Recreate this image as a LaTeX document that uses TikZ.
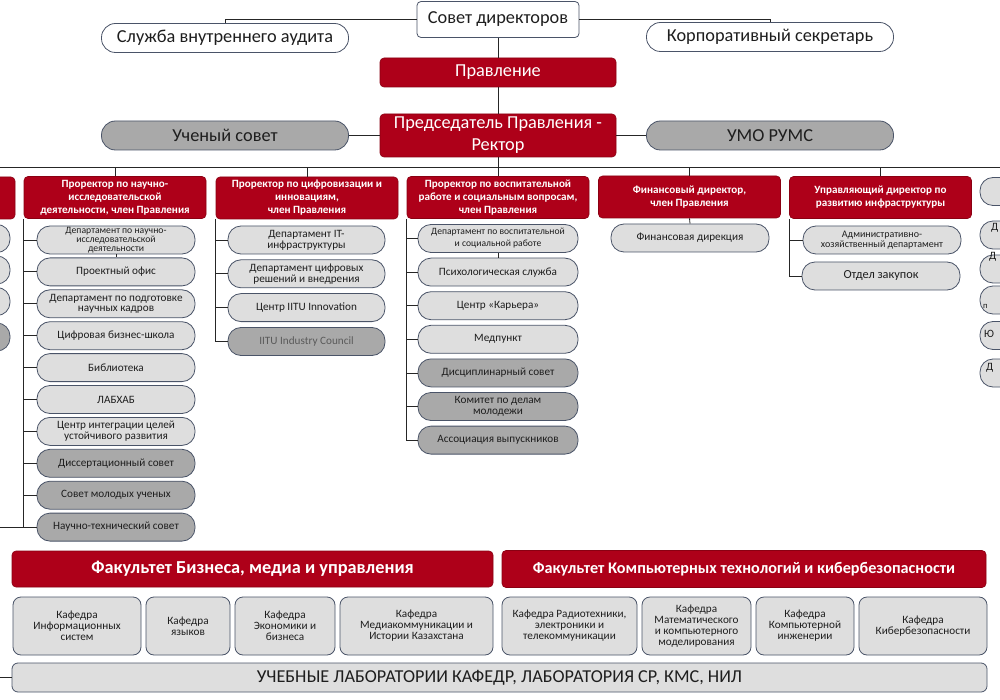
\documentclass[tikz,border=0pt]{standalone}
\usepackage{fontspec}
\setmainfont{Carlito}
\usetikzlibrary{positioning}

\definecolor{hdred}{HTML}{AE0019}
\definecolor{hdredline}{HTML}{8A0012}
\definecolor{edge}{HTML}{4A5468}
\definecolor{pillLt}{HTML}{DEDEDE}
\definecolor{pillDk}{HTML}{A9A9A9}
\definecolor{txtdark}{HTML}{1E1E1E}
\definecolor{txtgray}{HTML}{5A5A5A}
\definecolor{linecol}{HTML}{262626}

\begin{document}
\begin{tikzpicture}[x=1pt, y=-1pt,
    every node/.style={inner sep=0pt, align=center, text=txtdark},
    redbox/.style={draw=hdredline, fill=hdred, text=white, rounded corners=4pt, line width=0.6pt},
    head/.style={redbox, minimum width=182pt, minimum height=42pt, font=\bfseries\fontsize{11.1}{13}\selectfont},
    toppill/.style={draw=edge, rounded corners=14pt, minimum width=247pt, minimum height=29pt, line width=0.8pt, font=\fontsize{18.3}{21}\selectfont},
    pill/.style={draw=edge, fill=pillLt, rounded corners=13pt, minimum width=158pt, minimum height=28pt, line width=0.8pt, font=\fontsize{11.2}{10.8}\selectfont},
    darkpill/.style={fill=pillDk},
    dept/.style={draw=edge, fill=pillLt, rounded corners=8pt, minimum height=58pt, line width=0.8pt, font=\fontsize{11.2}{11}\selectfont},
    link/.style={draw=linecol, line width=0.8pt}
]
    % Page
    \useasboundingbox (0,0) rectangle (1000,700);
    \clip (0,0) rectangle (1000,700);
    \fill[white] (0,0) rectangle (1000,700);

    % Top levels
    \node[draw=edge, fill=white, rounded corners=4pt, minimum width=162pt, minimum height=36pt, line width=0.8pt, font=\fontsize{18.3}{21}\selectfont] (board) at (498,19.5) {Совет директоров};
    \node[toppill, fill=white] (audit) at (225,38) {Служба внутреннего аудита};
    \node[toppill, fill=white] (secretary) at (770,37) {Корпоративный секретарь};
    \node[redbox, minimum width=236pt, minimum height=29pt, font=\fontsize{18.3}{21}\selectfont] (management) at (498,72.5) {Правление};
    \node[redbox, minimum width=236pt, minimum height=43pt, font=\fontsize{18.3}{22}\selectfont] (rector) at (498,135.5) {Председатель Правления -\\Ректор};
    \node[toppill, fill=pillDk] (council) at (225,135.5) {Ученый совет};
    \node[toppill, fill=pillDk] (umo) at (770,135.5) {УМО РУМС};

    \draw[link] (board.west) -| (audit.north);
    \draw[link] (board.east) -| (secretary.north);
    \draw[link] (board.south) -- (management.north);
    \draw[link] (management.south) -- (rector.north);
    \draw[link] (council.east) -- (rector.west);
    \draw[link] (rector.east) -- (umo.west);

    % Bus to the vice-rectors
    \coordinate (busL) at (0,167);
    \coordinate (busR) at (1000,167);
    \draw[link] (busL) -- (busR);
    \draw[link] (rector.south) -- (rector.south |- busL);

    % Column heads
    \node[head] (vp0) at (-76,198) {};
    \node[head] (vp1) at (115,197.5) {Проректор по научно-\\исследовательской\\деятельности, член Правления};
    \node[head] (vp2) at (307,198) {Проректор по цифровизации и\\инновациям,\\член Правления};
    \node[head] (vp3) at (498,197.5) {Проректор по воспитательной\\работе и социальным вопросам,\\член Правления};
    \node[head] (vp4) at (689.5,197) {Финансовый директор,\\член Правления};
    \node[head] (vp5) at (880.5,197.5) {Управляющий директор по\\развитию инфраструктуры};
    \foreach \v in {vp1,vp2,vp3,vp4,vp5}
        \draw[link] (\v.north) -- (\v.north |- busL);

    % Left cut-off column
    \foreach \y [count=\i] in {238.5,270,301.5}
        \node[pill] (lf\i) at (-69,\y) {};
    \node[pill, darkpill] (lf4) at (-69,337) {};

    % Research column
    \node[pill, font=\fontsize{9.7}{9}\selectfont] (sci1) at (116,240) {Департамент по научно-\\исследовательской\\деятельности};
    \foreach \txt [count=\i from 2] in {Проектный офис, {Департамент по подготовке\\научных кадров}, Цифровая бизнес-школа, Библиотека, ЛАБХАБ, {Центр интеграции целей\\устойчивого развития}}
        \node[pill] (sci\i) at (116, {208.1+31.9*\i}) {\txt};
    \foreach \txt [count=\i from 8] in {Диссертационный совет, Совет молодых ученых, Научно-технический совет}
        \node[pill, darkpill] (sci\i) at (116, {208.1+31.9*\i}) {\txt};
    \draw[link] (vp1.south west) |- (sci10.west);
    \foreach \i in {1,...,9}
        \draw[link] (vp1.south west |- sci\i.west) -- (sci\i.west);
    \draw[link] (sci1.south) -- (sci2.north);
    \draw[link] (busL |- sci10.west) -- (sci10.west);

    % Digital column
    \foreach \txt [count=\i] in {{Департамент IT-\\инфраструктуры}, {Департамент цифровых\\решений и внедрения}, Центр IITU Innovation}
        \node[pill, minimum width=157pt] (dig\i) at (306.5, {206.2+33.8*\i}) {\txt};
    \node[pill, darkpill, minimum width=157pt, text=txtgray] (dig4) at (306.5,341.5) {IITU Industry Council};
    \draw[link] (vp2.south west) |- (dig4.west);
    \foreach \i in {1,2,3}
        \draw[link] (vp2.south west |- dig\i.west) -- (dig\i.west);

    % Student affairs column
    \node[pill, minimum width=160pt, font=\fontsize{9.6}{12}\selectfont] (edu1) at (498,238.5) {Департамент по воспитательной\\и социальной работе};
    \foreach \txt [count=\i from 2] in {Психологическая служба, Центр «Карьера», Медпункт}
        \node[pill, minimum width=160pt] (edu\i) at (498, {204.9+33.6*\i}) {\txt};
    \foreach \txt [count=\i from 5] in {Дисциплинарный совет, {Комитет по делам\\молодежи}, Ассоциация выпускников}
        \node[pill, darkpill, minimum width=160pt] (edu\i) at (498, {204.9+33.6*\i}) {\txt};
    \draw[link] (vp3.south west) |- (edu7.west);
    \foreach \i in {1,...,6}
        \draw[link] (vp3.south west |- edu\i.west) -- (edu\i.west);
    \draw[link] (edu1.south) -- (edu2.north);

    % Finance column
    \node[pill] (fin1) at (690,238) {Финансовая дирекция};
    \draw[link] (vp4.south) -- (fin1.north);

    % Infrastructure column
    \node[pill, font=\fontsize{10}{10.5}\selectfont] (inf1) at (882,240) {Административно-\\хозяйственный департамент};
    \node[pill, font=\fontsize{12.3}{12}\selectfont] (inf2) at (881,276) {Отдел закупок};
    \draw[link] (vp5.south west) |- (inf2.west);
    \draw[link] (vp5.south west |- inf1.west) -- (inf1.west);

    % Right cut-off column
    \foreach \y [count=\i] in {191.5,235,269,300,335.5,373}
        \node[pill] (rt\i) at (1059,\y) {};
    \node[anchor=west, font=\fontsize{11.2}{11}\selectfont] (rt2t) at (991,228) {Д};
    \node[anchor=west, font=\fontsize{11.2}{11}\selectfont] (rt3t) at (989,257) {Д};
    \node[anchor=west, font=\fontsize{8.5}{8}\selectfont] (rt4t) at (983,306) {п};
    \node[anchor=west, font=\fontsize{11.2}{11}\selectfont] (rt5t) at (984,334) {Ю};
    \node[anchor=west, font=\fontsize{11.2}{11}\selectfont] (rt6t) at (986,368) {Д};

    % Faculties
    \node[redbox, minimum width=481pt, minimum height=36pt, font=\bfseries\fontsize{18.3}{20}\selectfont] (fac1) at (252.5,569) {Факультет Бизнеса, медиа и управления};
    \node[redbox, minimum width=484pt, minimum height=37pt, font=\bfseries\fontsize{16.2}{18}\selectfont] (fac2) at (744,569) {Факультет Компьютерных технологий и кибербезопасности};

    % Departments
    \foreach \cx/\w/\txt [count=\i] in {77/128/{Кафедра\\Информационных\\систем}, 188/84/{Кафедра\\языков}, 285/100/{Кафедра\\Экономики и\\бизнеса}, 416.5/153/{Кафедра\\Медиакоммуникации и\\Истории Казахстана}, 569.5/135/{Кафедра Радиотехники,\\электроники и\\телекоммуникации}, 696.5/109/{Кафедра\\Математического\\и компьютерного\\моделирования}, 805/98/{Кафедра\\Компьютерной\\инженерии}, 923/128/{Кафедра\\Кибербезопасности}}
        \node[dept, minimum width=\w pt] (dep\i) at (\cx,626) {\txt};

    % Laboratories
    \node[dept, minimum width=975pt, minimum height=29pt, rounded corners=6pt, font=\fontsize{18.2}{20}\selectfont] (labs) at (499.5,677.5) {УЧЕБНЫЕ ЛАБОРАТОРИИ КАФЕДР, ЛАБОРАТОРИЯ СР, КМС, НИЛ};
    \draw[link] (busL |- labs.west) -- (labs.west);
\end{tikzpicture}
\end{document}
